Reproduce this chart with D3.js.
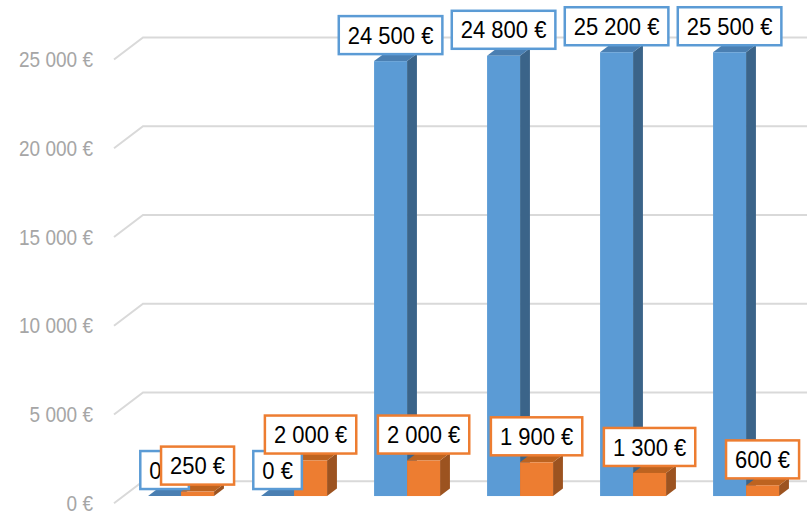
<!DOCTYPE html>
<html>
<head>
<meta charset="utf-8">
<script src="https://cdn.jsdelivr.net/npm/d3@7/dist/d3.min.js"></script>
<style>
  html, body { margin: 0; padding: 0; background: #fff; }
  svg { display: block; }
</style>
</head>
<body>
<svg id="chart" width="807" height="513"></svg>
<script>
// ---- data ----
const categories = ["A", "B", "C", "D", "E", "F"];
const seriesNames = ["Série 1", "Série 2"];
const series1 = [0, 0, 24500, 24800, 25200, 25500];
const series2 = [250, 2000, 2000, 1900, 1300, 600];
const yTicks = [0, 5000, 10000, 15000, 20000, 25000];

// ---- layout ----
const W = 807, H = 513;
const frontLeft = 115, frontRight = 793;
const yFrontZero = 503.3, yFrontTop = 59.5;
const wallDX = 29, wallDY = 22;          // depth vector of the floor/walls
const t0 = 0.33, t1 = 0.67;              // bar depth range (fraction of wall depth)
const colors = {
  front: ["#5b9bd5", "#ed7d31"],
  top:   ["#4a7fb2", "#bd6320"],
  side:  ["#3b6489", "#9c5320"]
};

const svg = d3.select("#chart");
const yMax = 25000;
const y = d3.scaleLinear().domain([0, yMax]).range([yFrontZero, yFrontTop]);
const x0 = d3.scaleBand().domain(categories).range([frontLeft, frontRight])
  .paddingInner(0.416).paddingOuter(0.208);
const x1 = d3.scaleBand().domain(seriesNames).range([0, x0.bandwidth()]);

const fmt = d3.formatLocale({decimal: ",", thousands: " ", grouping: [3], currency: ["", " €"]}).format("$,");

// ---- gridlines (back wall + side wall diagonal) ----
svg.append("g").selectAll("path").data(yTicks).join("path")
  .attr("d", v => `M${frontLeft - 1},${y(v)} L${frontLeft - 1 + wallDX},${y(v) - wallDY} L${W},${y(v) - wallDY}`)
  .attr("fill", "none").attr("stroke", "#d9d9d9").attr("stroke-width", 2);

// ---- y axis labels ----
const axis = d3.axisLeft(y).tickValues(yTicks).tickFormat(fmt).tickSizeInner(0).tickSizeOuter(0).tickPadding(0);
const ag = svg.append("g").attr("transform", "translate(93,0)").call(axis);
ag.select(".domain").remove();
ag.selectAll("text").attr("fill", "#a6a6a6")
  .style("font-family", "'Liberation Sans', Arial, sans-serif").style("font-size", "19px")
  .attr("transform", "scale(1,1.15)");

// ---- bars ----
const allSeries = [series1, series2];
const bars = [];
categories.forEach((c, i) => {
  allSeries.forEach((s, k) => {
    bars.push({c, k, v: s[i]});
  });
});

const depthDX = (t1 - t0) * wallDX, depthDY = (t1 - t0) * wallDY;
function geom(d) {
  const xl = x0(d.c) + x1(seriesNames[d.k]) + t0 * wallDX;
  const xr = xl + x1.bandwidth();
  const yb = y(0) - t0 * wallDY;
  const yt = y(Math.min(d.v, yMax)) - t0 * wallDY;
  return {xl, xr, yb, yt};
}

const bg = svg.append("g");
bars.forEach(d => {
  const g = geom(d);
  const grp = bg.append("g");
  grp.append("path")
    .attr("d", `M${g.xr},${g.yt} L${g.xr + depthDX},${g.yt - depthDY} L${g.xr + depthDX},${g.yb - depthDY} L${g.xr},${g.yb} Z`)
    .attr("fill", colors.side[d.k]);
  grp.append("path")
    .attr("d", `M${g.xl},${g.yt} L${g.xl + depthDX},${g.yt - depthDY} L${g.xr + depthDX},${g.yt - depthDY} L${g.xr},${g.yt} Z`)
    .attr("fill", colors.top[d.k]);
  grp.append("rect")
    .attr("x", g.xl).attr("y", g.yt).attr("width", g.xr - g.xl).attr("height", Math.max(0, g.yb - g.yt))
    .attr("fill", colors.front[d.k]);
});

// ---- data labels ----
const lg = svg.append("g");
bars.forEach(d => {
  const g = geom(d);
  const cx = (g.xl + g.xr) / 2;
  const cy = g.yt - 26;
  const grp = lg.append("g");
  const rect = grp.append("rect").attr("fill", "#fff").attr("stroke", colors.front[d.k]).attr("stroke-width", 2.5);
  const txt = grp.append("text")
    .attr("transform", `translate(${cx},${cy}) scale(1,1.12)`)
    .attr("dy", "0.35em")
    .attr("text-anchor", "middle")
    .style("font-family", "'Liberation Sans', Arial, sans-serif").style("font-size", "22px")
    .attr("fill", "#000")
    .text(fmt(d.v));
  const w = txt.node().getComputedTextLength() + 18;
  const h = 38;
  rect.attr("x", cx - w / 2).attr("y", cy - h / 2).attr("width", w).attr("height", h);
});
</script>
</body>
</html>
